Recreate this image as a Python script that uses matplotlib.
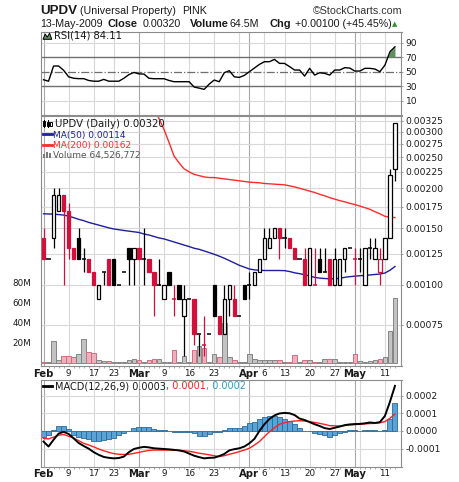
import matplotlib
matplotlib.use("Agg")
import matplotlib.pyplot as plt
import matplotlib.ticker as mticker
from matplotlib.patches import Rectangle, Polygon
from matplotlib.lines import Line2D
import numpy as np

plt.rcParams["font.family"] = ["DejaVu Sans"]
plt.rcParams["axes.unicode_minus"] = False

# ---------------------------------------------------------------- data
# daily sessions 2-Feb-2009 .. 13-May-2009; prices in ten-thousandths of a dollar
UNIT = 1e-4
prior_close = 13

open_ = [14, 12, 14, 17, 19, 17, 13, 14, 12, 12,
         11, 9, 11, 12, 12, 10, 11, 13, 12, 13,
         12, 12, 11, 10, 9, 11, 9, 10, 8, 9,
         9, 7, 6.5, 7, 10, 8, 7, 9, 9, 8,
         10, 10, 10, 11, 12, 13, 14, 15, 14, 14,
         13, 12, 12, 10, 10, 12, 11, 12, 10, 10,
         12, 13, 12, 12, 10, 13, 12, 11, 12, 14, 23]
high = [15, 12, 20, 20, 19, 18, 13, 15, 13, 12,
        11, 10, 11, 12, 12, 10, 11, 13, 13, 13,
        15, 12, 11, 12, 10, 11, 10, 10, 10, 9,
        9, 7, 8, 7, 10, 8, 10, 10, 10, 8,
        10, 11, 11, 12, 15, 15, 15, 15, 15, 14,
        13, 12, 13, 13, 13, 13, 13, 12, 13, 12,
        13, 13, 13, 13, 13, 14, 14, 13, 14, 23, 32]
low = [12, 12, 13, 17, 10, 12, 12, 12, 11, 11,
       10, 9, 10, 10, 10, 10, 11, 10, 10, 12,
       10, 11, 8, 10, 9, 10, 8, 9, 6, 9,
       6.5, 6, 6, 7, 8, 7, 7, 8, 8, 8,
       9, 9, 10, 11, 12, 13, 14, 12, 13, 13,
       12, 12, 10, 10, 10, 11, 11, 10, 10, 10,
       11, 13, 10, 11, 10, 12, 12, 10, 12, 14, 21]
close = [12, 12, 19, 19, 17, 13, 12, 12, 12, 11,
         10, 10, 11, 10, 10, 10, 11, 12, 13, 12,
         12, 11, 10, 10, 10, 10, 9, 9, 9, 9,
         7, 7, 6.5, 7, 8, 7, 9, 10, 8, 8,
         9, 10, 11, 12, 14, 14, 15, 14, 14, 13,
         12, 12, 10, 13, 10, 11, 11, 10, 12, 12,
         13, 13, 12, 12, 13, 13, 13, 12, 14, 22, 32]

# volume in millions of shares
volume_m = [1.3, 1, 22, 3, 7, 7, 6, 9, 24, 11,
            10, 3, 2, 2, 1, 1, 1, 3, 4, 3,
            1, 3, 3.7, 3.7, 0.5, 1.3, 13, 0.5, 7, 0.5,
            13, 17, 15, 0.5, 9, 6, 40, 6, 3, 0.5,
            0.5, 9, 3.7, 3, 3, 3, 3, 3, 1, 1,
            8, 1, 3, 3, 1, 1, 4, 4, 4, 1,
            1, 1, 9, 2, 1, 2.3, 3, 4, 6, 32, 64.526772]

ma50 = [16.65, 16.63, 16.6, 16.56, 16.5, 16.37, 16.2, 16.0, 15.85, 15.65,
        15.5, 15.35, 15.2, 15.05, 14.93, 14.85, 14.77, 14.7, 14.63, 14.56,
        14.4, 14.3, 14.15, 14.0, 13.9, 13.75, 13.6, 13.45, 13.3, 13.16,
        13.0, 12.9, 12.75, 12.6, 12.45, 12.28, 12.1, 11.9, 11.7, 11.5,
        11.35, 11.2, 11.13, 11.1, 11.08, 11.08, 11.08, 11.08, 11.07, 11.0,
        10.9, 10.83, 10.75, 10.65, 10.55, 10.49, 10.46, 10.44, 10.44, 10.48,
        10.55, 10.6, 10.64, 10.67, 10.7, 10.73, 10.77, 10.8, 10.88, 11.1, 11.4]

ma200_first_session = 22
ma200 = [35.5, 33, 30.5, 27.8, 25.2, 24, 23, 22.5, 22.1, 21.9,
         21.7, 21.6, 21.6, 21.5, 21.4, 21.3, 21.2, 21.1, 21.0, 20.9,
         20.85, 20.8, 20.7, 20.65, 20.6, 20.55, 20.5, 20.35, 20.2, 20.0,
         19.8, 19.6, 19.4, 19.15, 18.95, 18.7, 18.5, 18.3, 18.15, 17.95,
         17.8, 17.6, 17.4, 17.2, 16.9, 16.65, 16.35, 16.25, 16.2]

rsi14 = [39, 37, 57.8, 57.8, 52, 43, 41, 40.5, 40.5, 38,
         37, 37, 39.5, 37, 37, 37, 41, 46, 49, 47,
         46.8, 41, 40.4, 40.4, 40.4, 38, 36.3, 36.3, 36.3, 36.3,
         29, 27.5, 25.8, 33, 38.6, 36.3, 48.6, 51.4, 43, 42.2,
         45, 50, 55, 60, 63.7, 63.7, 66.9, 61.4, 61.4, 57,
         52.3, 52.3, 44, 54.6, 45.4, 48.6, 47.7, 45.4, 52.3, 52.3,
         55.5, 55, 50.9, 50.9, 54.6, 54.6, 53.7, 50, 59, 77.4, 84.11]

macd_line = [-0.6, -0.88, -0.5, -0.15, -0.05, -0.17, -0.42, -0.68, -0.85, -1.0,
             -1.2, -1.35, -1.47, -1.52, -1.55, -1.53, -1.45, -1.2, -1.02, -0.95,
             -0.9, -0.93, -0.98, -1.0, -1.02, -1.04, -1.07, -1.1, -1.16, -1.28,
             -1.4, -1.48, -1.55, -1.52, -1.51, -1.42, -1.3, -1.1, -1.03, -0.98,
             -0.88, -0.7, -0.45, 0.0, 0.38, 0.68, 0.88, 0.99, 1.02, 1.0,
             0.9, 0.7, 0.62, 0.5, 0.38, 0.28, 0.16, 0.11, 0.18, 0.25,
             0.33, 0.37, 0.39, 0.4, 0.43, 0.48, 0.45, 0.5, 0.85, 1.65, 2.55]
macd_signal = [-0.42, -0.45, -0.35, -0.24, -0.2, -0.3, -0.4, -0.55, -0.7, -0.79,
               -0.9, -1.02, -1.12, -1.21, -1.28, -1.32, -1.33, -1.32, -1.27, -1.21,
               -1.15, -1.1, -1.08, -1.08, -1.08, -1.08, -1.09, -1.1, -1.12, -1.15,
               -1.2, -1.26, -1.3, -1.35, -1.4, -1.45, -1.4, -1.32, -1.25, -1.17,
               -1.08, -0.98, -0.8, -0.6, -0.32, -0.04, 0.18, 0.38, 0.47, 0.53,
               0.56, 0.58, 0.56, 0.53, 0.48, 0.43, 0.37, 0.3, 0.29, 0.28,
               0.31, 0.34, 0.36, 0.38, 0.4, 0.42, 0.43, 0.46, 0.53, 0.72, 0.96]
macd_hist = [-0.32, -0.23, 0.05, 0.3, 0.3, 0.11, -0.23, -0.32, -0.42, -0.47,
             -0.55, -0.55, -0.5, -0.47, -0.38, -0.23, -0.12, 0.02, 0.15, 0.2,
             0.2, 0.2, 0.11, 0.06, 0.06, 0.02, -0.04, -0.04, -0.04, -0.06,
             -0.13, -0.26, -0.26, -0.19, -0.08, -0.04, 0.05, 0.19, 0.19, 0.19,
             0.3, 0.43, 0.53, 0.68, 0.77, 0.85, 0.85, 0.77, 0.68, 0.57,
             0.38, 0.15, -0.02, 0.02, -0.13, -0.19, -0.23, -0.32, -0.23, -0.09,
             -0.04, 0.04, 0.04, 0.01, 0.04, 0.04, 0.06, 0.01, 0.06, 0.68, 1.57]

tick_sessions = [0, 5, 10, 14, 19, 24, 29, 34, 41, 44, 48, 53, 58, 62, 68]
tick_labels = ["Feb", "9", "17", "23", "Mar", "9", "16", "23",
               "Apr", "6", "13", "20", "27", "May", "11"]
month_names = {"Feb", "Mar", "Apr", "May"}
week_starts = [0, 5, 10, 14, 19, 24, 29, 34, 39, 41, 44, 48, 53, 58, 62, 63, 68]
month_starts = [0, 19, 41, 62]

price_ticks = [7.5, 10, 12.5, 15, 17.5, 20, 22.5, 25, 27.5, 30, 32.5]
volume_ticks = [20, 40, 60, 80]
rsi_ticks = [10, 30, 50, 70, 90]
macd_ticks = [-1, 0, 1, 2]
macd_tick_labels = ["-0.0001", "0.0000", "0.0001", "0.0002"]

# ---------------------------------------------------------------- arrays
n = len(close)
x = np.arange(n)
o = np.array(open_) * UNIT
h = np.array(high) * UNIT
lo = np.array(low) * UNIT
c = np.array(close) * UNIT
prev_c = np.r_[prior_close, close[:-1]] * UNIT
falling = c < prev_c

RED = "#d2103c"
INK = "#000000"
GRID = "#d8d8d8"
MONTH = "#a9a9a9"
FRAME = "#8c8c8c"
TXT = "#1a1a1a"

W, H = 460, 482
fig = plt.figure(figsize=(W / 100, H / 100), dpi=100)
fig.patch.set_facecolor("white")


def rect(top, bottom, left=40.5, right=401.5):
    return [left / W, 1 - bottom / H, (right - left) / W, (bottom - top) / H]


def fx(px):
    return px / W


def fy(py):
    return 1 - py / H


XLIM = (-0.6, 71.3)


def frame(ax, visible=True):
    ax.set_xlim(*XLIM)
    for s in ax.spines.values():
        s.set_visible(visible)
        s.set_color(FRAME)
        s.set_linewidth(0.8)
    ax.yaxis.tick_right()
    ax.tick_params(axis="y", which="major", labelsize=6.6, length=1.5, width=0.6,
                   color=FRAME, pad=1.5, labelcolor=TXT)
    ax.tick_params(axis="x", which="both", length=0, labelbottom=False)


def week_grid(ax):
    for s in week_starts:
        ax.axvline(s, color=MONTH if s in month_starts else GRID, lw=0.8, zorder=0)


def date_axis(ax):
    ax.set_xticks(tick_sessions)
    ax.set_xticklabels(tick_labels)
    ax.xaxis.set_minor_locator(mticker.FixedLocator(x))
    ax.tick_params(axis="x", which="major", length=0, labelbottom=True,
                   labelsize=6.3, pad=2.0, labelcolor=TXT)
    ax.tick_params(axis="x", which="minor", length=1.6, width=0.5, color=FRAME)
    for t in ax.get_xticklabels():
        if t.get_text() in month_names:
            t.set_fontweight("bold")
            t.set_fontsize(7.2)


PLO, PHI = 0.000558, 0.003349

# ---------------------------------------------------------------- RSI panel
ax_rsi = fig.add_axes(rect(32, 115))
frame(ax_rsi)
week_grid(ax_rsi)
ax_rsi.set_ylim(-9.3, 104.4)
ax_rsi.set_yticks(rsi_ticks)
for lvl in rsi_ticks:
    if lvl in (30, 70):
        ax_rsi.axhline(lvl, color="#6e6e6e", lw=1.0, zorder=1)
    elif lvl == 50:
        ax_rsi.axhline(lvl, color="#6e6e6e", lw=0.9, ls="-.", zorder=1)
    else:
        ax_rsi.axhline(lvl, color=GRID, lw=0.8, zorder=0)
rsi = np.array(rsi14)
ax_rsi.fill_between(x, rsi, 70, where=rsi >= 70, interpolate=True,
                    color="#5f8f5f", lw=0, zorder=2)
ax_rsi.plot(x, rsi, color=INK, lw=1.0, zorder=3)

# ---------------------------------------------------------------- price panel
ax_grid = fig.add_axes(rect(116.5, 366))
frame(ax_grid, visible=False)
ax_grid.set_yscale("log")
ax_grid.set_ylim(PLO, PHI)
ax_grid.set_yticks(np.array(price_ticks) * UNIT)
ax_grid.yaxis.set_minor_locator(mticker.NullLocator())
ax_grid.tick_params(axis="y", which="both", length=0, labelright=False, labelleft=False)
ax_grid.yaxis.grid(True, color=GRID, lw=0.8)
week_grid(ax_grid)

ax_vol = fig.add_axes(rect(116.5, 366))
ax_vol.set_facecolor("none")
ax_vol.set_xlim(*XLIM)
for s in ax_vol.spines.values():
    s.set_visible(False)
ax_vol.set_ylim(-3, 246)
ax_vol.set_yticks(volume_ticks)
ax_vol.set_yticklabels([f"{v}M" for v in volume_ticks])
ax_vol.tick_params(axis="y", left=False, right=False, labelleft=True, labelsize=6.3,
                   pad=3.5, labelcolor=TXT)
ax_vol.tick_params(axis="x", length=0, labelbottom=False)
vol_face = np.where(falling, "#efb0bc", "#c3c3c3")
vol_edge = np.where(falling, "#cf6f82", "#858585")
ax_vol.bar(x, volume_m, width=0.9, color=vol_face, edgecolor=vol_edge, lw=0.7, zorder=2)

ax_price = fig.add_axes(rect(116.5, 366))
ax_price.set_facecolor("none")
frame(ax_price)
ax_price.set_yscale("log")
ax_price.set_ylim(PLO, PHI)
ax_price.set_yticks(np.array(price_ticks) * UNIT)
ax_price.yaxis.set_major_formatter(mticker.FuncFormatter(lambda v, _: f"{v:.5f}"))
ax_price.yaxis.set_minor_locator(mticker.NullLocator())
ax_price.yaxis.set_minor_formatter(mticker.NullFormatter())
date_axis(ax_price)

# moving averages
ax_price.plot(x, np.array(ma50) * UNIT, color="#1e1e9e", lw=1.0, zorder=2)
x200 = np.arange(ma200_first_session, ma200_first_session + len(ma200))
ax_price.plot(x200, np.array(ma200) * UNIT, color="#ff2b2b", lw=1.0, zorder=2)

# candlesticks
edge = np.where(falling, RED, INK)
ax_price.vlines(x, lo, h, colors=edge, lw=0.9, zorder=3)
for i in range(n):
    if o[i] == c[i]:
        ax_price.hlines(c[i], x[i] - 0.42, x[i] + 0.42, colors=edge[i], lw=1.1, zorder=4)
    else:
        b0, b1 = min(o[i], c[i]), max(o[i], c[i])
        face = "white" if c[i] > o[i] else edge[i]
        ax_price.bar(x[i], b1 - b0, bottom=b0, width=0.66, facecolor=face,
                     edgecolor=edge[i], lw=0.9, zorder=4)

# ---------------------------------------------------------------- MACD panel
ax_macd = fig.add_axes(rect(379.5, 466.5))
frame(ax_macd)
week_grid(ax_macd)
ax_macd.set_ylim(-2.01 * UNIT, 2.91 * UNIT)
ax_macd.set_yticks(np.array(macd_ticks) * UNIT)
ax_macd.set_yticklabels(macd_tick_labels)
ax_macd.yaxis.grid(True, color=GRID, lw=0.8)
ax_macd.set_axisbelow(True)
date_axis(ax_macd)
ax_macd.bar(x, np.array(macd_hist) * UNIT, width=1.0, color="#5aa3d6",
            edgecolor="#2c6a9a", lw=0.6, zorder=2)
ax_macd.plot(x, np.array(macd_signal) * UNIT, color="#ff2020", lw=1.0, zorder=3)
ax_macd.plot(x, np.array(macd_line) * UNIT, color=INK, lw=1.4, zorder=4)

# ---------------------------------------------------------------- header
title_font = ["Liberation Sans", "DejaVu Sans"]


def ftext(px, py, s, **kw):
    kw.setdefault("family", title_font)
    kw.setdefault("color", TXT)
    return fig.text(fx(px), fy(py), s, va="baseline", **kw)


chg = c[-1] - c[-2]
pct = chg / c[-2] * 100
ftext(40.5, 14.2, "UPDV", fontsize=9.6, fontweight="bold")
ftext(80, 14.2, "(Universal Property)", fontsize=7.7)
ftext(182, 14.2, "PINK", fontsize=7.7)
ftext(402, 14.2, "\u00a9StockCharts.com", fontsize=7.7, ha="right", color="#333333")
ftext(40.7, 26.8, "13-May-2009", fontsize=7.7)
ftext(108, 26.8, "Close", fontsize=7.9, fontweight="bold")
ftext(143, 26.8, f"{c[-1]:.5f}", fontsize=7.7)
ftext(190, 26.8, "Volume", fontsize=7.9, fontweight="bold")
ftext(230, 26.8, f"{volume_m[-1]:.1f}M", fontsize=7.7)
ftext(270, 26.8, "Chg", fontsize=7.9, fontweight="bold")
ftext(295, 26.8, f"+{chg:.5f} (+{pct:.2f}%)", fontsize=7.7)
ftext(392, 26.3, "\u25b2", fontsize=5.0, color="#2f8f2f", family=["DejaVu Sans"])

# RSI legend with its small mountain icon
fig.add_artist(Polygon([(fx(43), fy(39.3)), (fx(45.2), fy(34)), (fx(47.2), fy(37.2)),
                        (fx(49.6), fy(33.2)), (fx(51.8), fy(39.3))],
                       closed=True, facecolor="#5f8f5f", edgecolor=INK, lw=0.7,
                       transform=fig.transFigure))
fig.text(fx(54), fy(39.0), f"RSI(14) {rsi14[-1]:.2f}", fontsize=7.2, color=TXT, va="baseline")

# price legend
fig.add_artist(Line2D([fx(44.2), fx(44.2)], [fy(119.5), fy(127)], color=INK, lw=0.7,
                      transform=fig.transFigure))
fig.add_artist(Rectangle((fx(43.2), fy(126)), 2.2 / W, 5 / H, facecolor="white",
                         edgecolor=INK, lw=0.7, transform=fig.transFigure))
fig.add_artist(Line2D([fx(48.3), fx(48.3)], [fy(119.5), fy(127)], color=INK, lw=0.7,
                      transform=fig.transFigure))
fig.add_artist(Rectangle((fx(47.2), fy(125.5)), 2.2 / W, 4 / H, facecolor=INK,
                         edgecolor=INK, lw=0.7, transform=fig.transFigure))
fig.add_artist(Rectangle((fx(50.2), fy(126)), 1.6 / W, 4.5 / H, facecolor="white",
                         edgecolor=INK, lw=0.7, transform=fig.transFigure))
fig.text(fx(55), fy(127), f"UPDV (Daily) {c[-1]:.5f}", fontsize=7.3, color=TXT, va="baseline")

fig.add_artist(Line2D([fx(43.3), fx(51.7)], [fy(134.3), fy(134.3)], color="#1e1e9e", lw=2.0,
                      transform=fig.transFigure))
fig.text(fx(53.3), fy(137.7), f"MA(50) {ma50[-1] * UNIT:.5f}", fontsize=6.5,
         color="#1e1e9e", va="baseline")
fig.add_artist(Line2D([fx(43.3), fx(51.7)], [fy(144.6), fy(144.6)], color="#ff2b2b", lw=2.0,
                      transform=fig.transFigure))
fig.text(fx(53.3), fy(148.3), f"MA(200) {ma200[-1] * UNIT:.5f}", fontsize=6.5,
         color="#ff2b2b", va="baseline")
for k, hgt in enumerate([4.0, 6.5, 5.0]):
    fig.add_artist(Rectangle((fx(43.3 + k * 2.8), fy(158.3)), 2.2 / W, hgt / H,
                             facecolor="#7a7a7a", edgecolor="none",
                             transform=fig.transFigure))
fig.text(fx(53.3), fy(158.3), f"Volume {int(round(volume_m[-1] * 1e6)):,}", fontsize=6.5,
         color="#555555", va="baseline")

# MACD legend
fig.add_artist(Line2D([fx(43.3), fx(51.7)], [fy(386.3), fy(386.3)], color=INK, lw=2.0,
                      transform=fig.transFigure))
t1 = fig.text(fx(55), fy(389.3), f"MACD(12,26,9) {macd_line[-1] * UNIT:.4f}",
              fontsize=7.0, color=TXT, va="baseline")
t2 = fig.text(0, 0, f", {macd_signal[-1] * UNIT:.4f}", fontsize=7.0, color="#ff2020",
              va="baseline")
t3 = fig.text(0, 0, f", {macd_hist[-1] * UNIT:.4f}", fontsize=7.0, color="#3399cc",
              va="baseline")
fig.canvas.draw()
r = fig.canvas.get_renderer()
e1 = t1.get_window_extent(r)
t2.set_position((e1.x1 / W, fy(389.3)))
e2 = t2.get_window_extent(r)
t3.set_position((e2.x1 / W, fy(389.3)))

fig.savefig("out.png", dpi=100, facecolor="white")
